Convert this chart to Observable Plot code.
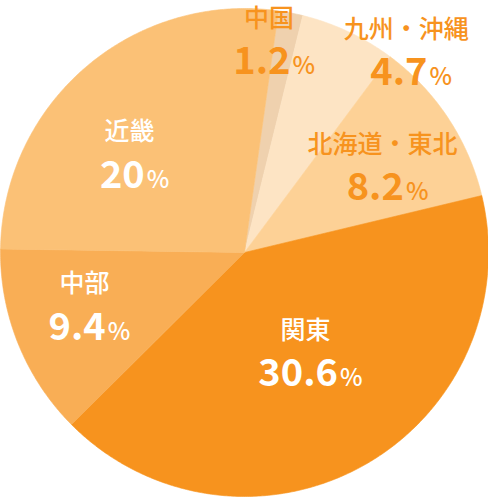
<!DOCTYPE html>
<html>
<head>
<meta charset="utf-8">
<script src="https://cdn.jsdelivr.net/npm/d3@7"></script>
<script src="https://cdn.jsdelivr.net/npm/@observablehq/plot@0.6"></script>
<style>
  html, body { margin: 0; padding: 0; background: #fff; }
  #chart { width: 488px; height: 500px; }
  #chart svg { display: block; font-family: "Noto Sans CJK JP", "Noto Sans", sans-serif; }
</style>
</head>
<body>
<div id="chart"></div>
<script>
// Regional shares, clockwise from the top
const regions = ["中国", "九州・沖縄", "北海道・東北", "関東", "中部", "近畿"];
const shares = [1.2, 4.7, 8.2, 30.6, 9.4, 20];
const valueLabels = ["1.2%", "4.7%", "8.2%", "30.6%", "9.4%", "20%"];

// Slice fills, in region order
const sliceColors = ["#efd1ae", "#fde4c4", "#fdd196", "#f7931e", "#f9ae55", "#fbc176"];

// Label anchors: [degrees clockwise from 12 o'clock, distance as a fraction of the radius]
const labelPlacement = {
  "中国": [6.6, 0.878],
  "九州・沖縄": [38.7, 1.06],
  "北海道・東北": [57.9, 0.668],
  "関東": [148.5, 0.478],
  "中部": [251.7, 0.691],
  "近畿": [310.8, 0.622]
};
const whiteLabels = new Set(["関東", "中部", "近畿"]);
const accent = "#f7931e";
const startDeg = 8;

// Slice outlines from d3.pie angles (unit circle, y up)
const start = startDeg * Math.PI / 180;
const arcs = d3.pie().sort(null).startAngle(start).endAngle(start + 2 * Math.PI)(shares);
const outline = [];
arcs.forEach((a, i) => {
  const n = Math.max(2, Math.ceil((a.endAngle - a.startAngle) / (Math.PI / 360)));
  outline.push({region: regions[i], x: 0, y: 0});
  for (let k = 0; k <= n; k++) {
    const t = a.startAngle + (a.endAngle - a.startAngle) * k / n;
    outline.push({region: regions[i], x: Math.sin(t), y: Math.cos(t)});
  }
  outline.push({region: regions[i], x: 0, y: 0});
});

const labels = regions.map((region, i) => {
  const [deg, r] = labelPlacement[region];
  const t = deg * Math.PI / 180;
  return {region, value: valueLabels[i], x: r * Math.sin(t), y: r * Math.cos(t), white: whiteLabels.has(region)};
});

const nameMark = (data, fill) => Plot.text(data, {
  x: "x", y: "y", text: "region", dy: -21, fill,
  fontSize: 25, fontWeight: 500
});
const valueMark = (data, fill) => Plot.text(data, {
  x: "x", y: "y", text: "value", dy: 22, dx: 5, fill,
  fontSize: 38, fontWeight: 700
});

const inner = labels.filter(d => d.white);
const outer = labels.filter(d => !d.white);

const chart = Plot.plot({
  width: 488,
  height: 500,
  margin: 0,
  x: {domain: [-1, 1], range: [0, 488], axis: null},
  y: {domain: [-1, 1], range: [496, 8], axis: null},
  color: {domain: regions, range: sliceColors},
  style: {fontFamily: '"Noto Sans CJK JP", "Noto Sans", sans-serif', background: "#fff"},
  marks: [
    Plot.line(outline, {x: "x", y: "y", z: "region", fill: "region", stroke: "region", strokeWidth: 0.6, curve: "linear"}),
    nameMark(inner, "#fff"),
    valueMark(inner, "#fff"),
    nameMark(outer, accent),
    valueMark(outer, accent)
  ]
});

// Set the percent sign smaller than the figures
d3.select(chart).selectAll("text").filter(function () {
  return /%$/.test(this.textContent);
}).each(function () {
  const s = this.textContent;
  const el = d3.select(this);
  el.text(null);
  el.append("tspan").text(s.slice(0, -1));
  el.append("tspan").attr("font-size", 24).attr("font-weight", 500).attr("dx", 2).text("%");
});

document.getElementById("chart").appendChild(chart);
</script>
</body>
</html>
